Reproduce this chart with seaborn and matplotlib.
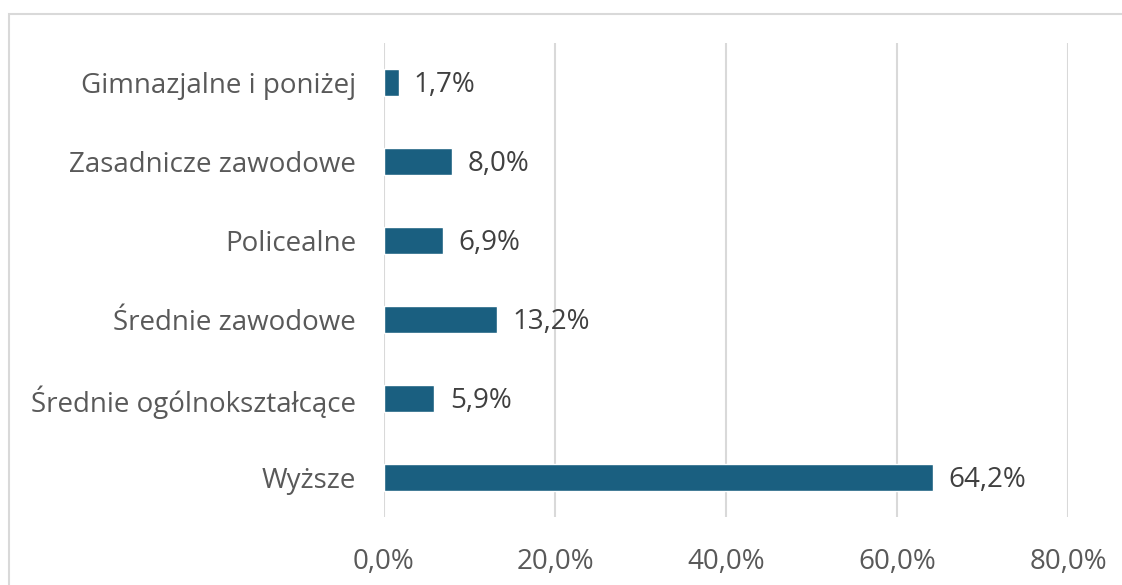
import matplotlib
matplotlib.use("Agg")
import matplotlib.pyplot as plt
from matplotlib.patches import Rectangle
import seaborn as sns
import pandas as pd

# Data
categories = ["Gimnazjalne i poniżej", "Zasadnicze zawodowe", "Policealne",
              "Średnie zawodowe", "Średnie ogólnokształcące", "Wyższe"]
values = [1.7, 8.0, 6.9, 13.2, 5.9, 64.2]
x_ticks = [0, 20, 40, 60, 80]

df = pd.DataFrame({"kat": categories, "val": values})

sns.set_theme(style="white")
plt.rcParams['font.family'] = ['Open Sans', 'DejaVu Sans']

text_color = "#595959"
value_color = "#404040"
bar_color = "#1a5f80"
grid_color = "#d9d9d9"

fig = plt.figure(figsize=(11.22, 5.85), dpi=100)
ax = fig.add_axes([384 / 1122, 1 - 517 / 585, (1068 - 384) / 1122, (517 - 43) / 585])

sns.barplot(data=df, x="val", y="kat", orient="h", color=bar_color,
            width=0.33, saturation=1, ax=ax)

ax.set_xlim(0, 80)
ax.set_xticks(x_ticks)
ax.set_xticklabels([f"{t:.1f}%".replace(".", ",") for t in x_ticks])
ax.set_xlabel("")
ax.set_ylabel("")
ax.tick_params(axis="x", length=0, pad=22, labelsize=20, labelcolor=text_color)
ax.tick_params(axis="y", length=0, pad=20, labelsize=20, labelcolor=text_color)
ax.grid(axis="x", color=grid_color, linewidth=1.5)
ax.grid(axis="y", visible=False)
ax.set_axisbelow(True)
for s in ax.spines.values():
    s.set_visible(False)

for i, v in enumerate(values):
    ax.annotate(f"{v:.1f}%".replace(".", ","), xy=(v, i), xytext=(11, -2),
                textcoords="offset points", va="center", ha="left",
                fontsize=20, color=value_color)

# outer chart border (cropped at right and bottom)
fig.patches.append(Rectangle((9 / 1122, -0.1), 2, 1 - 14 / 585 + 0.1,
                             transform=fig.transFigure, fill=False,
                             edgecolor=grid_color, linewidth=1.5))

fig.savefig("out.png", dpi=100)
